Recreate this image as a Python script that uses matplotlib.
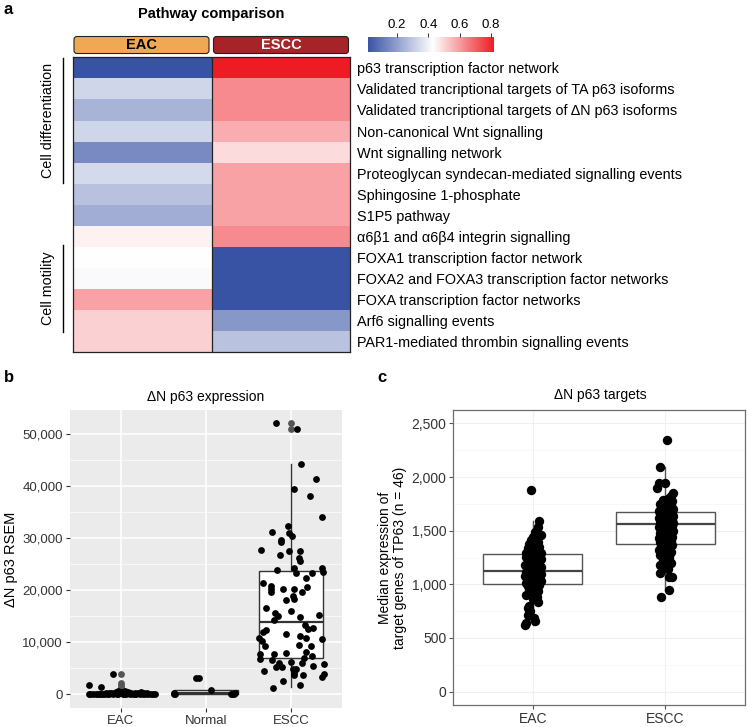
import numpy as np
import matplotlib
matplotlib.use('Agg')
import matplotlib.pyplot as plt
from matplotlib.colors import LinearSegmentedColormap
from matplotlib.patches import FancyBboxPatch
from matplotlib.lines import Line2D
from matplotlib.ticker import FuncFormatter, MultipleLocator

plt.rcParams['font.family'] = ['Liberation Sans', 'DejaVu Sans']

# ---- panel a data ----
pathways = ['p63 transcription factor network',
            'Validated trancriptional targets of TA p63 isoforms',
            'Validated trancriptional targets of ΔN p63 isoforms',
            'Non-canonical Wnt signalling',
            'Wnt signalling network',
            'Proteoglycan syndecan-mediated signalling events',
            'Sphingosine 1-phosphate',
            'S1P5 pathway',
            'α6β1 and α6β4 integrin signalling',
            'FOXA1 transcription factor network',
            'FOXA2 and FOXA3 transcription factor networks',
            'FOXA transcription factor networks',
            'Arf6 signalling events',
            'PAR1-mediated thrombin signalling events']
eac_scores = [0.015, 0.33, 0.25, 0.33, 0.15, 0.34, 0.28, 0.235, 0.455, 0.43, 0.42, 0.59, 0.51, 0.51]
escc_scores = [0.82, 0.63, 0.63, 0.57, 0.49, 0.59, 0.59, 0.59, 0.63, 0.015, 0.015, 0.015, 0.18, 0.285]
groups_a = ['EAC', 'ESCC']

# ---- panel b data (values in RSEM) ----
cats_b = ['EAC', 'Normal', 'ESCC']
eac_b_jit = [-0.38, -0.36, -0.33, -0.30, -0.27, -0.25, -0.22, -0.20, -0.18, -0.16, -0.14, -0.12,
             -0.10, -0.08, -0.06, -0.05, -0.03, -0.01, 0.01, 0.02, 0.04, 0.06, 0.08, 0.10,
             0.12, 0.14, 0.16, 0.18, 0.20, 0.22, 0.24, 0.26, 0.28, 0.30, 0.32, 0.35, 0.38, 0.40,
             -0.38, -0.24, -0.09, -0.14, 0.05, 0.17, 0.27, -0.04, 0.09]
eac_b_val = [0, 50, 0, 100, 0, 150, 0, 80, 300, 0, 200, 350,
             0, 250, 450, 100, 0, 300, 500, 0, 150, 80, 400, 0,
             200, 0, 100, 0, 350, 0, 500, 100, 0, 250, 0, 100, 0, 0,
             1900, 1500, 4000, 0, 600, 200, 300, 700, 300]
normal_b_jit = [-0.38, -0.38, -0.12, -0.08, 0.06, 0.29, 0.33, 0.31, -0.36, 0.34]
normal_b_val = [300, 0, 3200, 3200, 800, 100, 0, 0, 100, 200]
escc_b_jit = [-0.18, 0.07, 0.12, 0.29, 0.04, 0.22, 0.37, -0.04, -0.22, -0.02, 0.01, -0.12,
              -0.12, -0.35, -0.02, 0.10, -0.13, 0.09, 0.10, 0.04, 0.37, -0.16, 0.06, 0.25,
              0.38, -0.33, 0.18, -0.23, -0.23, -0.10, 0.04, 0.19, -0.24, 0.13, 0.02, 0.04,
              -0.06, -0.30, 0.00, -0.15, 0.33, 0.10, -0.19, -0.20, -0.29, -0.33, 0.26, 0.16,
              0.20, -0.06, 0.11, 0.18, -0.38, -0.34, 0.36, -0.31, 0.09, 0.23, 0.18, -0.06,
              -0.20, -0.36, -0.36, 0.25, 0.15, -0.22, 0.13, -0.14, 0.00, -0.11, -0.18, 0.02,
              0.06, 0.04, 0.03, 0.39, 0.26, -0.32, 0.37, -0.09, 0.10, -0.21, 0.39, 0.14]
escc_b_val = [52200, 51000, 44200, 41400, 39500, 38100, 34100, 32300, 31100, 31000, 30500, 29600,
              29200, 27800, 27500, 27500, 26800, 26100, 25600, 24200, 24200, 23800, 23400, 23400,
              23600, 21400, 22400, 20800, 20300, 20300, 20300, 20600, 19700, 19700, 18900, 18300,
              18100, 16500, 16100, 15000, 15200, 14900, 15700, 14300, 12400, 12000, 12700, 13300,
              12600, 11600, 11300, 10800, 10800, 10300, 10600, 9300, 9500, 9300, 8200, 8000,
              7800, 7700, 6900, 7400, 7000, 6600, 6100, 6000, 6300, 5300, 5300, 4800,
              4800, 4200, 3700, 4000, 5500, 4500, 3400, 2600, 1900, 1300, 5800, 3700]
# boxplot stats: (whislo, q1, med, q3, whishi)
box_b = {'EAC': (0, 0, 30, 300, 700),
         'Normal': (0, 0, 350, 850, 900),
         'ESCC': (1350, 7000, 13900, 23700, 44200)}
outl_b = {'EAC': [4000, 2200, 1800, 1400, 1000], 'Normal': [], 'ESCC': [52200, 51000]}

# ---- panel c data ----
cats_c = ['EAC', 'ESCC']
eac_c_val = [1880, 1594, 1538, 1491, 1460, 1445, 1430, 1414, 1395, 1380, 1362, 1350, 1335, 1320,
             1310, 1300, 1295, 1290, 1285, 1282, 1275, 1268, 1260, 1252, 1245, 1238, 1230, 1222,
             1215, 1206, 1198, 1190, 1182, 1175, 1167, 1160, 1152, 1145, 1138, 1130, 1120, 1114,
             1108, 1100, 1094, 1087, 1080, 1073, 1066, 1060, 1053, 1046, 1040, 1033, 1027, 1020,
             1015, 1010, 1006, 998, 990, 982, 975, 965, 950, 935, 917, 900, 880, 860,
             833, 800, 777, 750, 715, 690, 662, 640, 621]
eac_c_jit = [-0.01, 0.05, 0.04, 0.02, 0.06, 0.00, 0.03, -0.01, 0.04, -0.03, 0.02, 0.05, -0.04, 0.01,
             0.04, -0.02, 0.06, -0.05, 0.02, -0.01, 0.05, -0.03, 0.03, -0.05, 0.01, 0.06, -0.02, 0.04,
             -0.04, 0.02, -0.01, 0.05, -0.06, 0.03, -0.02, 0.06, 0.00, -0.04, 0.04, -0.01, 0.05, -0.05,
             0.02, -0.02, 0.06, -0.03, 0.03, -0.06, 0.01, 0.05, -0.04, 0.02, -0.01, 0.06, -0.03, 0.03,
             -0.05, 0.00, 0.04, -0.02, 0.05, -0.04, 0.01, 0.03, -0.03, 0.04, -0.01, -0.05, 0.03, 0.00,
             0.04, -0.03, -0.04, -0.02, -0.04, 0.01, 0.02, -0.05, -0.06]
escc_c_val = [2346, 2097, 1948, 1942, 1896, 1849, 1820, 1802, 1790, 1775, 1760, 1748, 1735, 1722,
              1710, 1700, 1690, 1682, 1677, 1668, 1660, 1652, 1645, 1638, 1630, 1622, 1615, 1608,
              1600, 1594, 1588, 1580, 1574, 1567, 1556, 1548, 1540, 1530, 1522, 1512, 1503, 1495,
              1486, 1476, 1466, 1455, 1445, 1434, 1424, 1413, 1402, 1392, 1384, 1370, 1355, 1340,
              1322, 1305, 1289, 1274, 1260, 1243, 1225, 1200, 1180, 1165, 1140, 1104, 1072, 1072,
              948, 886]
escc_c_jit = [0.01, -0.04, 0.00, -0.05, -0.06, 0.06, 0.04, 0.03, -0.02, 0.05, 0.01, -0.04, 0.04, 0.00,
              -0.03, 0.06, 0.02, -0.05, 0.03, -0.01, 0.05, -0.04, 0.02, 0.06, -0.02, 0.03, -0.05, 0.01,
              0.05, -0.03, 0.04, -0.01, 0.06, -0.04, 0.02, -0.02, 0.05, -0.05, 0.01, 0.04, -0.03, 0.06,
              0.00, -0.04, 0.03, -0.01, 0.05, -0.05, 0.02, -0.02, 0.04, -0.04, 0.01, 0.05, -0.03, 0.02,
              -0.05, 0.04, -0.01, -0.04, 0.03, 0.03, -0.02, 0.04, -0.04, -0.02, 0.02, -0.04, 0.03, 0.05,
              0.03, -0.03]
box_c = {'EAC': (621, 1003, 1124, 1280, 1594),
         'ESCC': (948, 1379, 1562, 1674, 2097)}

W, H = 748, 727
fig = plt.figure(figsize=(W / 100, H / 100), dpi=100)

def fx(px):
    return px / W

def fy(py):
    return 1 - py / H

# ================= panel a =================
vmin, vmax = 0.015, 0.82
cmap = LinearSegmentedColormap.from_list(
    'bw_r', [(0, '#3953a4'), ((0.43 - vmin) / (vmax - vmin), '#ffffff'), (1, '#ed1c24')])

ax = fig.add_axes([fx(73), fy(352.3), 277 / W, 295 / H])
data = np.column_stack([eac_scores, escc_scores])
mesh = ax.pcolormesh(np.arange(3), np.arange(len(pathways) + 1), data,
                     cmap=cmap, vmin=vmin, vmax=vmax)
ax.set_xlim(0, 2)
ax.set_ylim(len(pathways), 0)
ax.axvline(1, color='#222222', lw=0.9)
for s in ax.spines.values():
    s.set_color('#222222')
    s.set_linewidth(0.9)
ax.set_xticks([])
ax.set_yticks(np.arange(len(pathways)) + 0.5)
ax.set_yticklabels(pathways, fontsize=10.4)
ax.yaxis.tick_right()
ax.tick_params(axis='y', length=0, pad=5)

# header boxes
axh = fig.add_axes([fx(73), fy(55), 277 / W, 20 / H])
axh.set_xlim(73, 350)
axh.set_ylim(55, 35)
axh.axis('off')
head_cols = ['#efa954', '#a62428']
head_txt = ['black', 'white']
for i, g in enumerate(groups_a):
    x0 = 74 + i * 139.5
    axh.add_patch(FancyBboxPatch((x0, 36.5), 135, 17, boxstyle='round,pad=0,rounding_size=3',
                                 fc=head_cols[i], ec='#222222', lw=0.8))
    axh.text(x0 + 67.5, 45.3, g, ha='center', va='center', fontsize=10.5,
             fontweight='bold', color=head_txt[i])

fig.text(fx(211), fy(14), 'Pathway comparison', ha='center', va='center',
         fontsize=10.5, fontweight='bold')
fig.text(fx(4), fy(9), 'a', ha='left', va='center', fontsize=12, fontweight='bold')

# side annotations
fig.add_artist(Line2D([fx(63), fx(63)], [fy(58), fy(183)], color='black', lw=1))
fig.add_artist(Line2D([fx(63), fx(63)], [fy(245), fy(332)], color='black', lw=1))
fig.text(fx(48), fy(120), 'Cell differentiation', rotation=90, ha='center', va='center', fontsize=10.3)
fig.text(fx(48), fy(288), 'Cell motility', rotation=90, ha='center', va='center', fontsize=10.3)

# colour bar
cax = fig.add_axes([fx(368), fy(52), 126 / W, 15 / H])
cb = fig.colorbar(mesh, cax=cax, orientation='horizontal')
cb.outline.set_visible(False)
cax.xaxis.set_ticks_position('top')
cb.set_ticks([0.2, 0.4, 0.6, 0.8])
cax.tick_params(axis='x', length=3, width=0.7, pad=1, labelsize=9.5, color='#333333')

# ================= panel b =================
axb = fig.add_axes([fx(70), fy(708), 272 / W, 298 / H])
axb.set_facecolor('#EBEBEB')

stats = []
for c in cats_b:
    lo, q1, med, q3, hi = box_b[c]
    stats.append(dict(whislo=lo, q1=q1, med=med, q3=q3, whishi=hi, fliers=[]))
axb.bxp(stats, positions=[1, 2, 3], widths=0.75, showfliers=False, showcaps=False,
        patch_artist=True, manage_ticks=False,
        boxprops=dict(facecolor='white', edgecolor='#333333', lw=1),
        medianprops=dict(color='#333333', lw=1.6),
        whiskerprops=dict(color='#333333', lw=1), zorder=2)
for i, c in enumerate(cats_b):
    if outl_b[c]:
        axb.scatter([i + 1] * len(outl_b[c]), outl_b[c], s=24, color='#555555', lw=0, zorder=3)
axb.scatter(1 + np.array(eac_b_jit), eac_b_val, s=24, color='black', lw=0, zorder=4)
axb.scatter(2 + np.array(normal_b_jit), normal_b_val, s=24, color='black', lw=0, zorder=4)
axb.scatter(3 + np.array(escc_b_jit), escc_b_val, s=24, color='black', lw=0, zorder=4)

axb.set_xlim(0.4, 3.6)
axb.set_ylim(-2600, 54600)
axb.yaxis.set_major_locator(MultipleLocator(10000))
axb.yaxis.set_minor_locator(MultipleLocator(5000))
axb.set_xticks([1, 2, 3])
axb.set_xticklabels(cats_b)
axb.yaxis.set_major_formatter(FuncFormatter(lambda v, p: f'{int(v):,}'))
axb.grid(which='major', color='white', lw=1.1, zorder=0)
axb.grid(which='minor', axis='y', color='white', lw=0.5, zorder=0)
axb.set_axisbelow(True)
for s in axb.spines.values():
    s.set_visible(False)
axb.tick_params(which='major', length=3, color='#333333', labelsize=9.5, labelcolor='#333333', pad=2)
axb.tick_params(which='minor', length=0)
axb.set_ylabel('ΔN p63 RSEM', fontsize=10.5, labelpad=3)
fig.text(fx(206), fy(397), 'ΔN p63 expression', ha='center', va='center', fontsize=10)
fig.text(fx(4), fy(378), 'b', ha='left', va='center', fontsize=12, fontweight='bold')

# ================= panel c =================
axc = fig.add_axes([fx(453.3), fy(705), 291.5 / W, 295 / H])

stats = []
for c in cats_c:
    lo, q1, med, q3, hi = box_c[c]
    stats.append(dict(whislo=lo, q1=q1, med=med, q3=q3, whishi=hi, fliers=[]))
axc.bxp(stats, positions=[1, 2], widths=0.75, showfliers=False, showcaps=False,
        patch_artist=True, manage_ticks=False,
        boxprops=dict(facecolor='white', edgecolor='#555555', lw=1),
        medianprops=dict(color='#444444', lw=1.6),
        whiskerprops=dict(color='#555555', lw=1), zorder=2)
axc.scatter(1 + np.array(eac_c_jit), eac_c_val, s=46, color='black', lw=0, zorder=4)
axc.scatter(2 + np.array(escc_c_jit), escc_c_val, s=46, color='black', lw=0, zorder=4)

axc.set_xlim(0.4, 2.6)
axc.set_ylim(-125, 2625)
axc.yaxis.set_major_locator(MultipleLocator(500))
axc.yaxis.set_minor_locator(MultipleLocator(250))
axc.set_xticks([1, 2])
axc.set_xticklabels(cats_c)
axc.yaxis.set_major_formatter(FuncFormatter(lambda v, p: f'{int(v):,}'))
axc.grid(which='major', color='#f0f0f0', lw=0.8)
axc.grid(which='minor', axis='y', color='#f6f6f6', lw=0.5)
axc.set_axisbelow(True)
for s in axc.spines.values():
    s.set_color('#6e6e6e')
    s.set_linewidth(0.9)
axc.tick_params(which='major', length=3, color='#555555', labelsize=10, labelcolor='#333333', pad=2)
axc.tick_params(which='minor', length=0)
axc.set_ylabel('Median expression of\ntarget genes of TP63 (n = 46)', fontsize=10, labelpad=3,
               linespacing=1.1)
fig.text(fx(600), fy(395), 'ΔN p63 targets', ha='center', va='center', fontsize=10)
fig.text(fx(377), fy(378), 'c', ha='left', va='center', fontsize=12, fontweight='bold')

fig.savefig('out.png', dpi=100)
